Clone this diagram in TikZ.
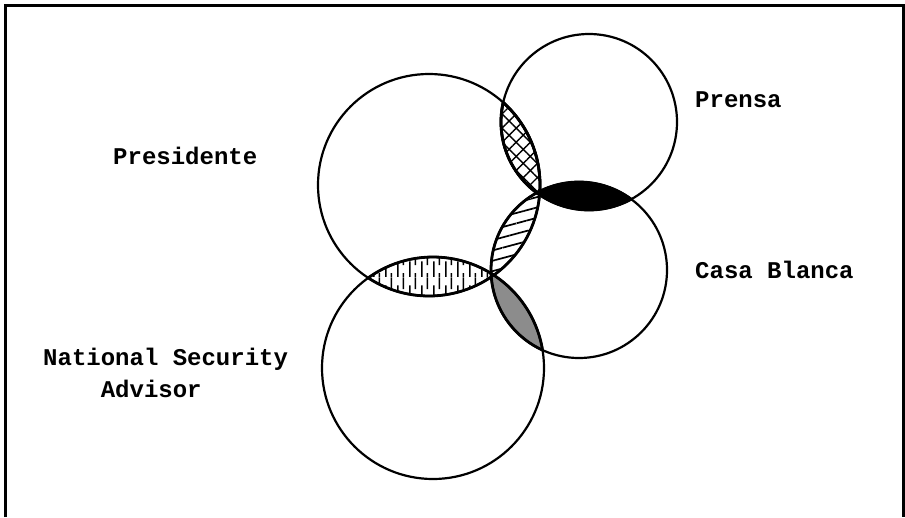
\documentclass[tikz,border=0pt]{standalone}
\usepackage{fontspec}
\newfontfamily\labelfont{Liberation Mono}
\usetikzlibrary{patterns.meta}
\tikzdeclarepattern{name=brokenrules, type=uncolored, bounding box={(0pt,0pt) and (12pt,24pt)}, tile size={(12pt,24pt)}, code={\draw[line width=1.6pt] (2pt,0pt) -- (2pt,16pt); \draw[line width=1.6pt] (8pt,12pt) -- (8pt,24pt); \draw[line width=1.6pt] (8pt,0pt) -- (8pt,4pt);}}
\def\lens(#1:#2)(#3:#4)[#5]{\begin{scope}\clip (#1) circle (#2pt); \fill[#5] (#3) circle (#4pt); \draw[line width=2.8pt] (#3) circle (#4pt);\end{scope}\begin{scope}\clip (#3) circle (#4pt); \draw[line width=2.8pt] (#1) circle (#2pt);\end{scope}}

\begin{document}
\begin{tikzpicture}[x=1pt, y=-1pt]
			%%%%% START %%%%%
			
			\useasboundingbox (0, 0) rectangle (905, 517);
			\fill[white] (0, 0) rectangle (905, 517);
			\draw[line width=3pt] (5.5, 517) -- (5.5, 5.5) -- (903.8, 5.5) -- (903.8, 517);
			
			\lens(429,185:111)(589,122:88)[pattern={Lines[angle=45, distance=10pt, line width=1.4pt]}];
			\lens(429,185:111)(589,122:88)[pattern={Lines[angle=-45, distance=10pt, line width=1.4pt]}];
			\lens(589,122:88)(579,270:88)[fill=black];
			\lens(429,185:111)(579,270:88)[pattern={Lines[angle=15, distance=10pt, line width=1.7pt]}];
			\lens(429,185:111)(433,368:111)[pattern=brokenrules];
			\lens(433,368:111)(579,270:88)[fill=black!45];
			
			\draw[line width=2.2pt] (429, 185) circle (111pt);
			\draw[line width=2.2pt] (589, 122) circle (88pt);
			\draw[line width=2.2pt] (579, 270) circle (88pt);
			\draw[line width=2.2pt] (433, 368) circle (111pt);
			
			\node[anchor=base west, inner sep=0pt, font=\labelfont\bfseries\fontsize{24}{32}\selectfont] (presidente) at (113, 164) {Presidente};
			\node[anchor=base west, inner sep=0pt, font=\labelfont\bfseries\fontsize{24}{32}\selectfont] (prensa) at (695, 107) {Prensa};
			\node[anchor=base west, inner sep=0pt, font=\labelfont\bfseries\fontsize{24}{32}\selectfont] (casablanca) at (695, 278) {Casa Blanca};
			\node[anchor=base west, inner sep=0pt, align=left, font=\labelfont\bfseries\fontsize{24}{32}\selectfont] (nsa) at (43, 397) {National Security\\\phantom{Nati}Advisor};
			
			%%%%% END %%%%%
\end{tikzpicture}
\end{document}
